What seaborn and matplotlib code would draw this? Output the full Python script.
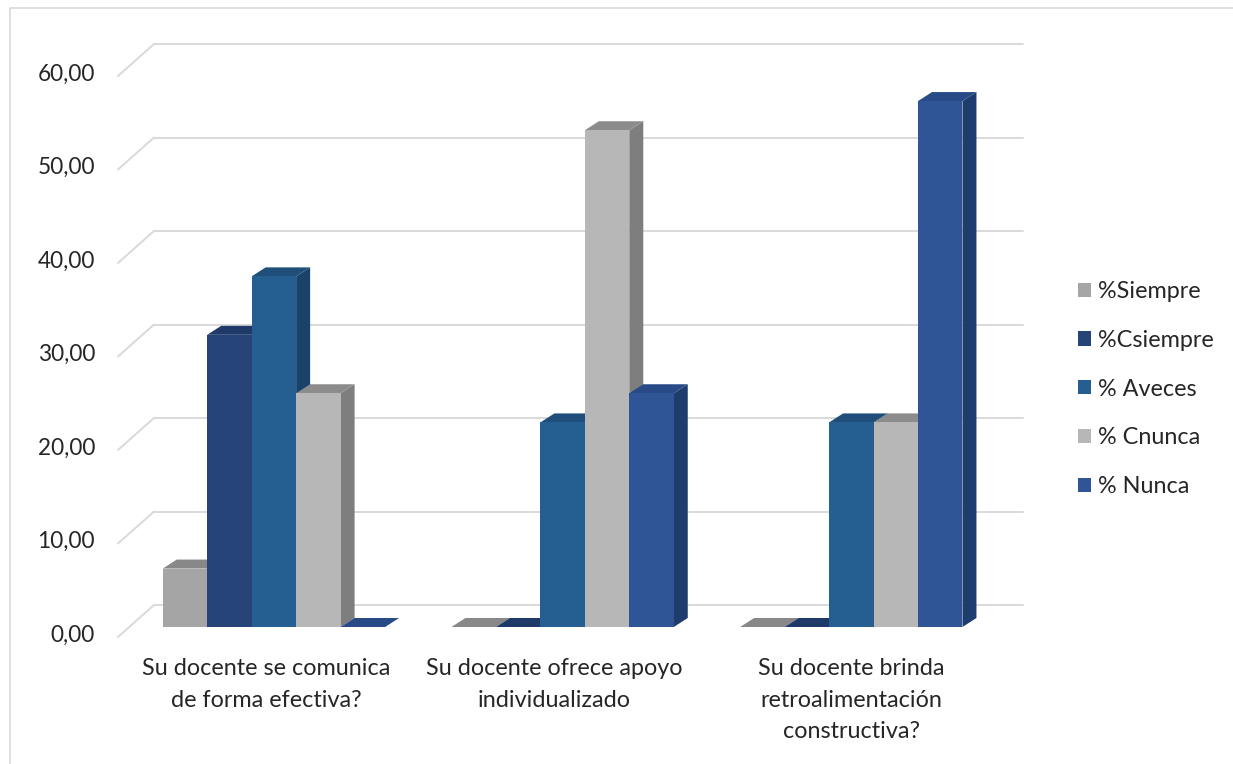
import numpy as np
import pandas as pd
import matplotlib
matplotlib.use("Agg")
import matplotlib.pyplot as plt
import matplotlib.transforms as mtrans
from matplotlib.patches import Polygon, Patch
from matplotlib.lines import Line2D
import seaborn as sns

# ---------------- data ----------------
preguntas = [
    "Su docente se comunica\nde forma efectiva?",
    "Su docente ofrece apoyo\nindividualizado",
    "Su docente brinda\nretroalimentación\nconstructiva?",
]
series = ["%Siempre", "%Csiempre", "% Aveces", "% Cnunca", "% Nunca"]
siempre = [6.25, 0.00, 0.00]
csiempre = [31.25, 0.00, 0.00]
aveces = [37.50, 21.88, 21.88]
cnunca = [25.00, 53.13, 21.88]
nunca = [0.00, 25.00, 56.25]
yticks = [0, 10, 20, 30, 40, 50, 60]

front_colors = ["#A5A5A5", "#264478", "#255E91", "#B7B7B7", "#2F5597"]
side_colors = ["#7B7B7B", "#1A2F55", "#19436A", "#7E7E7E", "#1F3C6E"]
top_colors = ["#888888", "#1F3A68", "#1F4E7B", "#8C8C8C", "#284B88"]

values = [siempre, csiempre, aveces, cnunca, nunca]
rows = []
for s, vals in zip(series, values):
    for q, v in zip(preguntas, vals):
        rows.append({"pregunta": q, "serie": s, "valor": v})
df = pd.DataFrame(rows)

# ---------------- style ----------------
sns.set_theme(style="white")
plt.rcParams["font.family"] = ["Lato", "DejaVu Sans"]
TEXT = "#262626"

W, H = 1233, 764
DPI = 100
fig = plt.figure(figsize=(W / DPI, H / DPI), dpi=DPI)
fig.patch.set_facecolor("white")

# front plane of the axes (pixels from top-left)
L, R, B, T = 118, 987, 627, 66
ax = fig.add_axes([L / W, 1 - B / H, (R - L) / W, (B - T) / H])
ax.set_facecolor("none")

width = 0.77
sns.barplot(
    data=df, x="pregunta", y="valor", hue="serie",
    order=preguntas, hue_order=series,
    palette=dict(zip(series, front_colors)), saturation=1,
    width=width, gap=0, linewidth=0, errorbar=None, legend=False, ax=ax,
)
ax.set_xlim(-0.54, 2.47)
ax.set_ylim(0, 60)
for sp in ax.spines.values():
    sp.set_visible(False)
ax.set_xlabel("")
ax.set_ylabel("")

# back-wall gridlines (offset up/right from front plane)
GX, GY = 36, 22
back = ax.transData + mtrans.ScaledTranslation(GX / DPI, GY / DPI, fig.dpi_scale_trans)
x0l, x1l = ax.get_xlim()
for v in yticks:
    ax.plot([x0l, x1l], [v, v], color="#D9D9D9", lw=1.4, transform=back,
            clip_on=False, zorder=0)
    fx, fy = ax.transData.transform((x0l, v))
    ax.add_line(Line2D([fx, fx + GX], [fy - 10, fy + GY], color="#D9D9D9", lw=1.4,
                       transform=mtrans.IdentityTransform(), clip_on=False, zorder=0))

# 3-D faces for every bar, derived from the seaborn patches
DX, DY = 14, 9
bw = width / len(series)
bars = [p for p in ax.patches]
bars.sort(key=lambda p: p.get_x())
ident = mtrans.IdentityTransform()
for i, p in enumerate(bars):
    cx = p.get_x() + p.get_width() / 2
    cat = int(round(cx))
    hi = int(round((cx - cat) / bw + (len(series) - 1) / 2))
    hi = max(0, min(len(series) - 1, hi))
    (dx0, dy0) = ax.transData.transform((p.get_x(), 0))
    (dx1, dy1) = ax.transData.transform((p.get_x() + p.get_width(), p.get_height()))
    side = Polygon([(dx1, dy0), (dx1 + DX, dy0 + DY), (dx1 + DX, dy1 + DY), (dx1, dy1)],
                   closed=True, facecolor=side_colors[hi], edgecolor="none",
                   transform=ident, clip_on=False, zorder=2 + 3 * i)
    top = Polygon([(dx0, dy1), (dx0 + DX, dy1 + DY), (dx1 + DX, dy1 + DY), (dx1, dy1)],
                  closed=True, facecolor=top_colors[hi], edgecolor="none",
                  transform=ident, clip_on=False, zorder=2 + 3 * i)
    ax.add_patch(side)
    ax.add_patch(top)
    p.set_zorder(3 + 3 * i)
    p.set_clip_on(False)

# ticks
ax.set_yticks(yticks)
ax.set_yticklabels([f"{v:.2f}".replace(".", ",") for v in yticks])
ax.tick_params(axis="y", length=0, pad=16.5, labelsize=16.3, labelcolor=TEXT)
ax.tick_params(axis="x", length=0, pad=22.5, labelsize=16.8, labelcolor=TEXT)
down = mtrans.ScaledTranslation(0, -6 / DPI, fig.dpi_scale_trans)
for lab in ax.get_yticklabels():
    lab.set_transform(lab.get_transform() + down)
left_shift = mtrans.ScaledTranslation(-8 / DPI, 0, fig.dpi_scale_trans)
for k, lab in enumerate(ax.get_xticklabels()):
    lab.set_linespacing(1.62)
    lab.set_multialignment("center")
    if k < 2:
        lab.set_transform(lab.get_transform() + left_shift)

# legend
handles = [Patch(facecolor=c, edgecolor="none") for c in front_colors]
fig.legend(handles, series, loc="center left",
           bbox_to_anchor=(1057 / W, 1 - 389 / H), frameon=False,
           fontsize=16.8, handlelength=0.55, handleheight=0.55,
           handletextpad=0.3, labelspacing=1.19, labelcolor=TEXT)

# outer frame
fig.add_artist(Line2D([10 / W, 10 / W, 1.0], [0, 1 - 8 / H, 1 - 8 / H],
                      transform=fig.transFigure, color="#D9D9D9", lw=1.2))

fig.savefig("out.png", dpi=DPI, facecolor="white")
